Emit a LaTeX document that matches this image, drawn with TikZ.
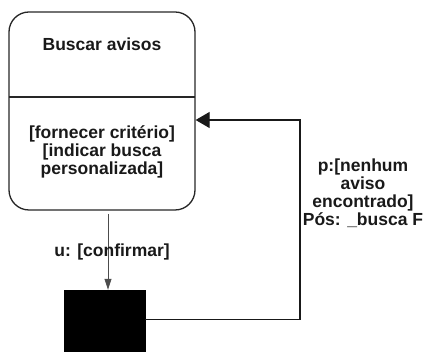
\documentclass[tikz,border=0pt]{standalone}
\usepackage{fontspec}
\setmainfont{Liberation Sans}
\usetikzlibrary{arrows.meta,calc}
\begin{document}
\begin{tikzpicture}[x=1pt,y=-1pt,
  lbl/.style={font=\fontsize{17.5}{18}\selectfont\bfseries, align=center, inner sep=0pt, text=black!90},
  statebox/.style={draw=black!85, line width=1.3pt, rounded corners=20pt, minimum width=186pt, minimum height=198pt, inner sep=0pt},
  finalbox/.style={fill=black, draw=black, minimum width=81pt, minimum height=80pt, inner sep=0pt},
  thinline/.style={draw=black!70, line width=0.8pt, -{Triangle[length=11pt,width=7pt]}},
  flowline/.style={draw=black!90, line width=1.3pt, -{Triangle[length=14pt,width=16pt]}}]
\useasboundingbox (0,0) rectangle (423,352);
\node[statebox] (state) at (102,111) {};
\coordinate (dl) at (9,97);
\coordinate (dr) at (195,97);
\draw[draw=black!85, line width=1.3pt] (dl) -- (dr);
\node[lbl] (title) at (102,44) {Buscar avisos};
\node[lbl] (body) at (102,152) {[fornecer critério]\\{}[indicar busca\\personalizada]};
\node[finalbox] (final) at (104.5,330) {};
\coordinate (ustart) at (108,214);
\draw[thinline] (ustart) -- (ustart |- final.north);
\node[lbl] (ulabel) at (112,252) {u: [confirmar]};
\coordinate (turn) at (300,120);
\coordinate (fstart) at ($(final.north east)+(0,30)$);
\draw[flowline] (fstart) -| (turn) -- (state.east |- turn);
\node[lbl] (plabel) at (363,193) {p:[nenhum\\aviso\\encontrado]\\Pós: \_busca F};
\end{tikzpicture}
\end{document}
